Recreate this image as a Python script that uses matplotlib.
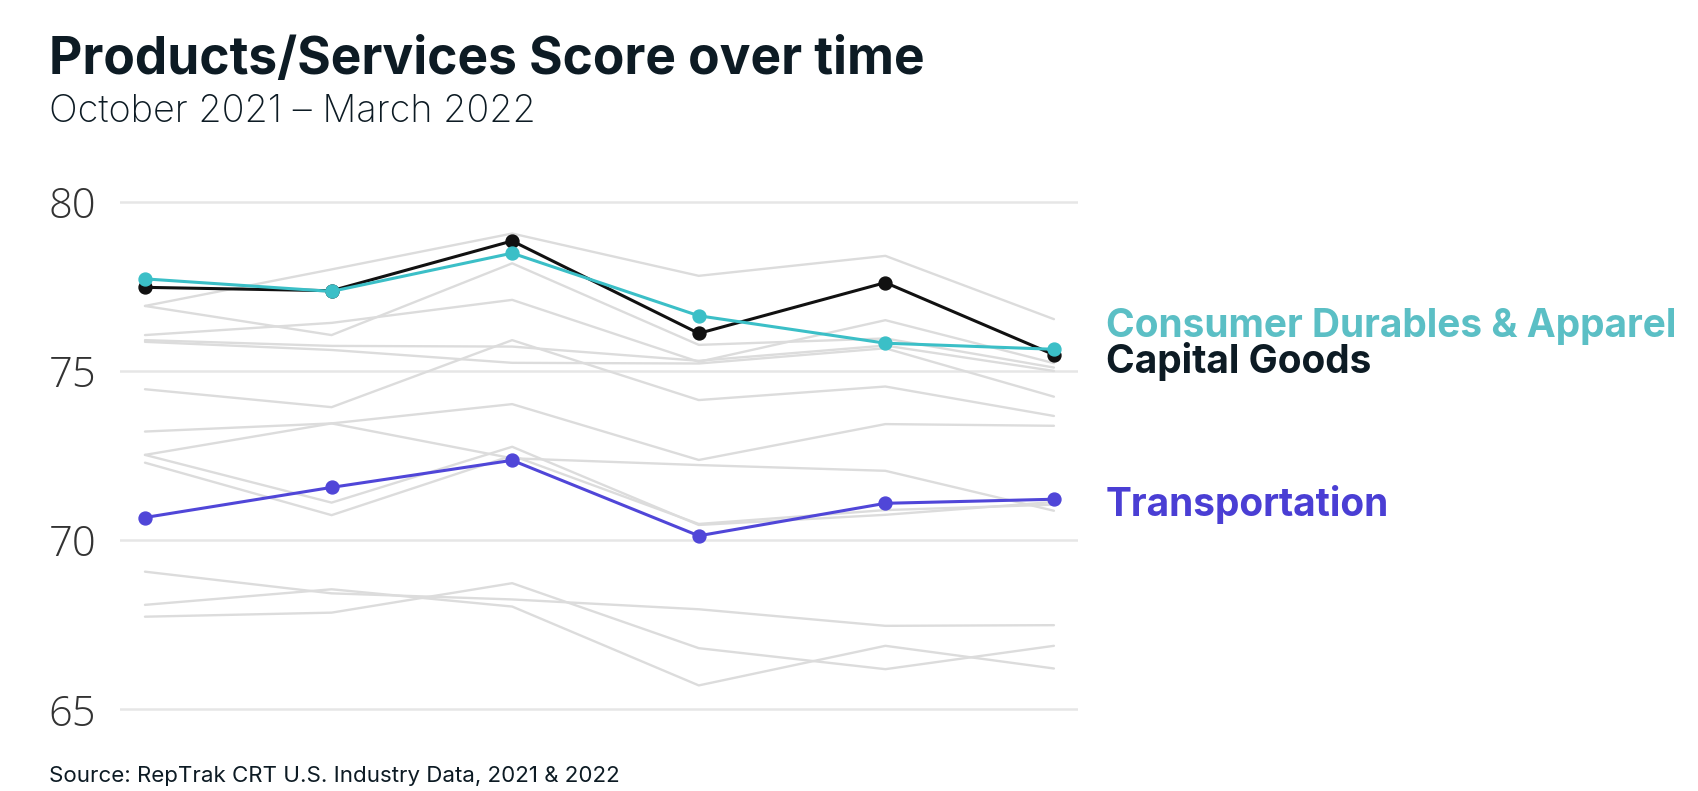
import matplotlib
matplotlib.use("Agg")
import matplotlib.pyplot as plt
import matplotlib.dates as mdates
from datetime import datetime

# ---------------- data ----------------
months = ["2021-10-01", "2021-11-01", "2021-12-01", "2022-01-01", "2022-02-01", "2022-03-01"]

consumer_durables = [77.72, 77.35, 78.48, 76.63, 75.82, 75.64]
capital_goods = [77.47, 77.37, 78.84, 76.11, 77.61, 75.48]
transportation = [70.67, 71.56, 72.36, 70.13, 71.09, 71.21]

# other industries (grey background lines)
other_industries = [
    [76.92, 78.00, 79.06, 77.81, 78.40, 76.53],
    [76.92, 76.06, 78.18, 75.77, 75.96, 75.10],
    [76.06, 76.42, 77.10, 75.27, 76.50, 75.23],
    [74.46, 73.93, 75.91, 74.14, 74.54, 73.67],
    [75.91, 75.74, 75.72, 75.30, 75.75, 75.00],
    [75.86, 75.62, 75.24, 75.22, 75.67, 74.24],
    [73.21, 73.45, 74.02, 72.37, 73.43, 73.38],
    [72.52, 73.45, 72.42, 72.22, 72.05, 70.87],
    [72.52, 71.11, 72.76, 70.45, 70.75, 71.13],
    [72.29, 70.74, 72.50, 70.48, 70.89, 71.05],
    [69.07, 68.43, 68.25, 67.96, 67.47, 67.49],
    [68.09, 68.55, 68.04, 65.71, 66.88, 66.21],
    [67.74, 67.86, 68.73, 66.81, 66.19, 66.88],
]

y_ticks = [65, 70, 75, 80]
title = "Products/Services Score over time"
subtitle = "October 2021 \u2013 March 2022"
source = "Source: RepTrak CRT U.S. Industry Data, 2021 & 2022"
label_cd = "Consumer Durables & Apparel"
label_cg = "Capital Goods"
label_tr = "Transportation"

# ---------------- figure ----------------
W, H = 1698, 791
fig = plt.figure(figsize=(W / 100, H / 100), dpi=100)
fig.patch.set_facecolor("white")

dates = [datetime.strptime(m, "%Y-%m-%d") for m in months]

# axes placement (pixels)
ax_left, ax_right = 120, 1078
y_lo, y_hi = 64.5, 80.5
px_per_unit = 33.85
y80 = 201.7
top_px = y80 - (y_hi - 80) * px_per_unit
bot_px = y80 + (80 - y_lo) * px_per_unit
ax = fig.add_axes([ax_left / W, 1 - bot_px / H, (ax_right - ax_left) / W, (bot_px - top_px) / H])

x0 = mdates.date2num(dates[0]) - 4.15
x1 = mdates.date2num(dates[-1]) + 4.0
ax.set_xlim(x0, x1)
ax.set_ylim(y_lo, y_hi)

for yv in y_ticks:
    ax.axhline(yv, color="#e6e6e6", lw=1.8, zorder=0)

grey = "#dcdcdc"
for series in other_industries:
    ax.plot(dates, series, color=grey, lw=1.7, zorder=1, solid_capstyle="round")

ax.plot(dates, capital_goods, color="#111111", lw=2.2, marker="o", ms=9.3, zorder=3)
ax.plot(dates, consumer_durables, color="#3bbfc7", lw=2.2, marker="o", ms=9.3, zorder=4)
ax.plot(dates, transportation, color="#5046d8", lw=2.2, marker="o", ms=9.3, zorder=4)

ax.set_yticks(y_ticks)
ax.set_yticklabels([str(v) for v in y_ticks], fontfamily="Open Sans", fontweight="light",
                   fontsize=30, color="#333333")
ax.tick_params(axis="y", length=0, pad=17)
ax.set_xticks([])
for s in ax.spines.values():
    s.set_visible(False)

# ---------------- texts ----------------
def ftext(xpx, ypx, s, **kw):
    return fig.text(xpx / W, 1 - ypx / H, s, va="baseline", ha="left", **kw)

fig.canvas.draw()
renderer = fig.canvas.get_renderer()

def fit(t, target_w):
    for _ in range(2):
        bb = t.get_window_extent(renderer=renderer)
        t.set_fontsize(t.get_fontsize() * target_w / bb.width)

t_title = ftext(49, 74, title, fontfamily="Inter", fontweight="bold", fontsize=36, color="#0d1b24")
fit(t_title, 876)
t_sub = ftext(49, 122, subtitle, fontfamily="Inter", fontweight="light", fontsize=26, color="#0d1b24")
fit(t_sub, 487)
t_src = ftext(49, 782, source, fontfamily="Inter", fontsize=14, color="#0d1b24")
fit(t_src, 571)

t_cd = ftext(1106, 337, label_cd, fontfamily="Inter", fontweight="bold", fontsize=26, color="#5bbfc5")
fit(t_cd, 570)
t_cg = ftext(1106, 373, label_cg, fontfamily="Inter", fontweight="bold", fontsize=t_cd.get_fontsize(), color="#0d1b24")
t_tr = ftext(1106, 516, label_tr, fontfamily="Inter", fontweight="bold", fontsize=t_cd.get_fontsize(), color="#4a3ed4")

fig.savefig("out.png", dpi=100, facecolor="white")
